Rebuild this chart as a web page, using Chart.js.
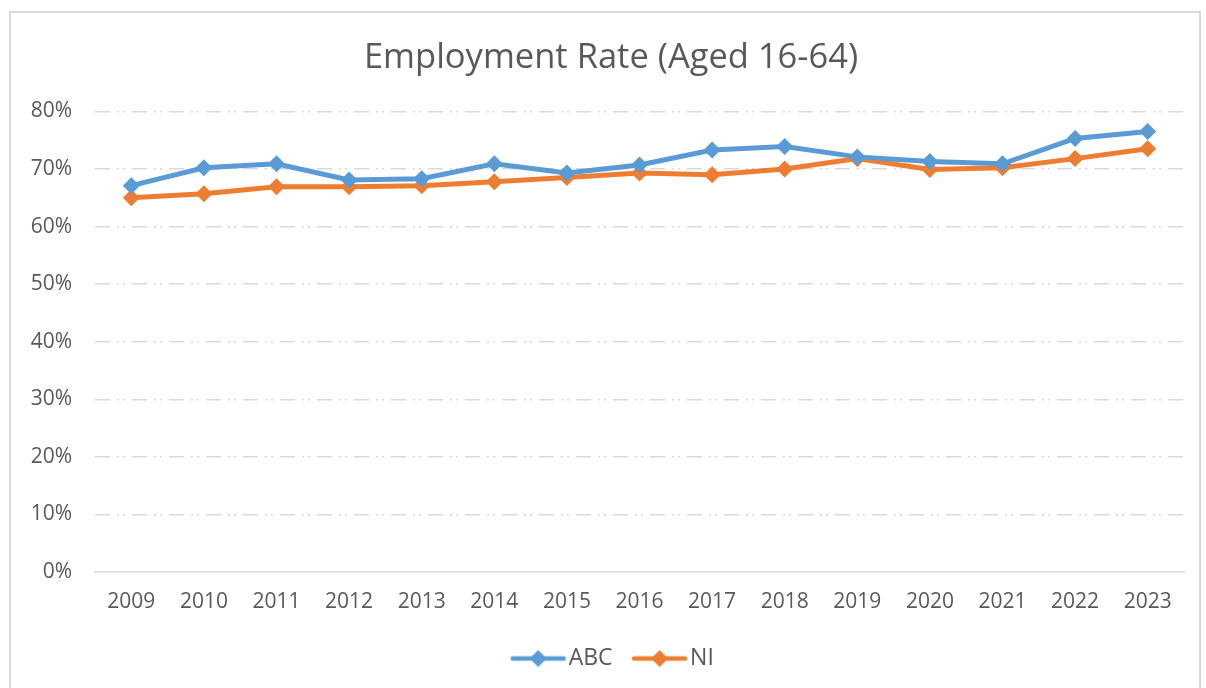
<!DOCTYPE html>
<html>
<head>
<meta charset="utf-8">
<script src="https://cdn.jsdelivr.net/npm/chart.js@4/dist/chart.umd.min.js"></script>
<style>
html,body{margin:0;padding:0;background:#fff;overflow:hidden;}
#frame{position:absolute;left:9px;top:11px;width:1192px;height:700px;border:2px solid #d9d9d9;border-bottom:none;box-sizing:border-box;}
#c{position:absolute;left:0;top:0;}
</style>
</head>
<body>
<div id="frame"></div>
<canvas id="c" width="1206" height="688"></canvas>
<script>
const years = ['2009','2010','2011','2012','2013','2014','2015','2016','2017','2018','2019','2020','2021','2022','2023'];
const abcValues = [67.1,70.2,70.9,68.1,68.3,70.9,69.3,70.7,73.3,73.9,72.1,71.3,70.9,75.3,76.5];
const niValues  = [65.0,65.7,66.9,66.9,67.1,67.8,68.5,69.3,69.0,70.0,71.8,69.9,70.2,71.8,73.5];
const yTicks = [0,10,20,30,40,50,60,70,80];
const seriesNames = ['ABC','NI'];
const seriesColors = ['#5B9BD5','#ED7D31'];

const FONT = '"Open Sans", "Liberation Sans", sans-serif';
const TXT = '#595959';

function legendIcon(color){
  const cv = document.createElement('canvas');
  cv.width = 70; cv.height = 18;
  const g = cv.getContext('2d');
  g.strokeStyle = color; g.lineWidth = 4.5; g.lineCap = 'round';
  g.beginPath(); g.moveTo(16,9); g.lineTo(67,9); g.stroke();
  g.fillStyle = color;
  g.beginPath(); g.moveTo(41.5,0.5); g.lineTo(50,9); g.lineTo(41.5,17.5); g.lineTo(33,9); g.closePath(); g.fill();
  return cv;
}
const icons = seriesColors.map(legendIcon);

const boxShift = {
  id: 'boxShift',
  afterLayout(chart) {
    const lg = chart.legend;
    if (lg) { lg.left += 18; lg.right += 18; }
    const tb = chart.titleBlock;
    if (tb) { tb.left += 19; tb.right += 19; }
  }
};

new Chart(document.getElementById('c'), {
  type: 'line',
  data: {
    labels: years,
    datasets: [abcValues, niValues].map((vals, i) => ({
      label: seriesNames[i],
      data: vals,
      borderColor: seriesColors[i],
      backgroundColor: seriesColors[i],
      borderWidth: 5,
      pointStyle: 'rectRot',
      pointRadius: 8.5,
      pointHoverRadius: 8.5,
      pointBorderWidth: 0,
      tension: 0,
      fill: false
    }))
  },
  plugins: [boxShift],
  options: {
    responsive: false,
    animation: false,
    events: [],
    devicePixelRatio: 1,
    layout: { padding: { left: 0, right: 22, top: 0, bottom: 8 } },
    plugins: {
      title: {
        display: true,
        text: 'Employment Rate (Aged 16-64)',
        color: TXT,
        font: { family: FONT, size: 34.5, weight: 'normal' },
        padding: { top: 37, bottom: 33 }
      },
      legend: {
        position: 'bottom',
        labels: {
          color: TXT,
          font: { family: FONT, size: 23 },
          usePointStyle: true,
          pointStyleWidth: 51,
          padding: 15,
          generateLabels: (chart) => chart.data.datasets.map((ds, i) => ({
            text: ds.label,
            pointStyle: icons[i],
            fillStyle: seriesColors[i],
            strokeStyle: seriesColors[i],
            lineWidth: 0,
            fontColor: TXT,
            datasetIndex: i,
            hidden: false
          }))
        }
      },
      tooltip: { enabled: false }
    },
    scales: {
      x: {
        offset: true,
        grid: { display: false, drawTicks: false },
        border: { display: true, color: '#d9d9d9', width: 1.5 },
        afterFit: (s) => { s.height = 60; },
        ticks: { color: TXT, font: { family: FONT, size: 21 }, padding: 17, maxRotation: 0 }
      },
      y: {
        min: 0, max: 80,
        afterBuildTicks: (s) => { s.ticks = yTicks.map(v => ({ value: v })); },
        afterFit: (s) => { s.width = 95; },
        grid: {
          drawTicks: false,
          color: (ctx) => ctx.tick && ctx.tick.value === 0 ? 'rgba(0,0,0,0)' : '#d9d9d9',
          lineWidth: 1.5
        },
        border: { display: false, dash: [15,7,2,4,2,7] },
        ticks: {
          color: TXT,
          font: { family: FONT, size: 21 },
          padding: 23,
          callback: (v) => v + '%'
        }
      }
    }
  }
});
</script>
</body>
</html>
